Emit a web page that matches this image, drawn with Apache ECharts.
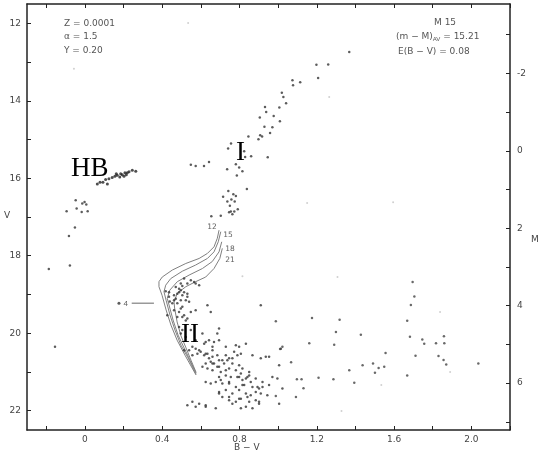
<!DOCTYPE html>
<html>
<head>
<meta charset="utf-8">
<script src="https://cdn.jsdelivr.net/npm/echarts@6/dist/echarts.min.js"></script>
<style>
  html, body { margin: 0; padding: 0; background: #fff; }
  #chart { width: 550px; height: 459px; }
</style>
</head>
<body>
<div id="chart"></div>
<script>
// M15 colour-magnitude diagram, [B-V, V]
const hbPts = [
  [0.064,16.15],[0.078,16.10],[0.093,16.10],[0.116,16.15],[0.107,16.03],[0.124,16.01],
  [0.141,15.98],[0.155,15.95],[0.167,15.92],[0.180,15.97],[0.193,15.91],[0.207,15.86],
  [0.219,15.86],[0.228,15.83],[0.245,15.79],[0.263,15.82],[0.185,15.88],[0.202,15.95],
  [0.162,15.88],[0.214,15.91]
];
const bluePts = [
  [-0.048,16.57],[-0.014,16.65],[-0.002,16.61],[0.007,16.68],[-0.043,16.78],[-0.095,16.85],
  [-0.017,16.87],[0.014,16.85],[-0.052,17.27],[-0.083,17.49],[-0.078,18.25],[-0.187,18.34],
  [-0.155,20.35]
];
const rgbPts = [
  [1.368,12.74],[1.198,13.07],[1.259,13.06],[1.207,13.41],[1.074,13.47],[1.114,13.52],
  [1.077,13.60],[1.019,13.79],[1.027,13.90],[1.041,14.06],[1.006,14.17],[0.932,14.16],
  [0.938,14.29],[0.977,14.39],[0.905,14.43],[1.009,14.53],[0.929,14.67],[0.970,14.68],
  [0.958,14.83],[0.907,14.89],[0.917,14.92],[0.898,14.99],[0.846,14.92],[0.756,15.10],
  [0.741,15.23],[0.824,15.30],[0.860,15.43],[0.829,15.45],[0.946,15.46],[0.642,15.58],
  [0.781,15.64],[0.798,15.72],[0.736,15.77],[0.815,15.82],[0.786,15.93],[0.838,16.28],
  [0.742,16.33],[0.768,16.41],[0.781,16.46],[0.715,16.48],[0.758,16.55],[0.737,16.60],
  [0.775,16.60],[0.750,16.71],[0.791,16.80],[0.755,16.86],[0.773,16.86],[0.763,16.93],
  [0.703,16.97],[0.746,16.88],[0.548,15.65],[0.573,15.68],[0.616,15.68],[0.654,16.98]
];
const msPts = [
  [0.548,18.63],[0.530,18.72],[0.504,18.78],[0.487,18.85],[0.470,18.81],[0.496,18.89],
  [0.513,18.94],[0.478,18.98],[0.461,19.02],[0.418,18.92],[0.591,18.76],[0.530,19.06],
  [0.439,19.18],[0.565,18.68],[0.435,19.06],[0.461,19.15],[0.478,19.23],[0.496,19.36],
  [0.426,19.54],[0.487,19.45],[0.513,19.54],[0.530,19.62],[0.548,19.45],[0.573,19.41],
  [0.634,19.28],[0.651,19.45],[0.694,19.88],[0.798,20.35],[0.910,19.28],[0.548,19.92],
  [0.573,20.18],[0.625,20.23],[0.591,20.44],[0.625,20.53],[0.660,20.44],[0.685,20.57],
  [0.642,20.65],[0.711,20.70],[0.746,20.65],[0.763,20.78],[0.660,20.78],[0.694,20.87],
  [0.729,20.96],[0.781,20.96],[0.815,20.91],[0.850,21.00],[0.798,21.13],[0.841,21.13],
  [0.884,21.17],[0.919,21.26],[0.694,21.13],[0.746,21.26],[0.781,21.39],[0.815,21.34],
  [0.867,21.39],[0.901,21.43],[0.694,21.56],[0.746,21.65],[0.798,21.69],[0.841,21.65],
  [0.884,21.73],[0.901,21.82],[0.763,21.82],[0.833,21.90],[0.867,21.94],[0.530,21.86],
  [0.591,21.82],[0.625,21.86],[0.677,21.94],[0.573,21.90],[0.970,21.13],[0.953,20.61],
  [0.867,20.57],[0.781,20.31],[0.513,20.44],[0.539,20.44],[0.556,20.57],[0.582,20.53],
  [0.599,20.48],[0.617,20.57],[0.634,20.53],[0.651,20.74],[0.660,20.61],[0.668,20.78],
  [0.625,20.78],[0.608,20.87],[0.634,20.91],[0.660,20.96],[0.685,20.87],[0.694,20.70],
  [0.703,21.00],[0.720,20.78],[0.737,20.70],[0.746,20.91],[0.763,20.65],[0.789,20.57],
  [0.729,20.35],[0.833,20.27],[0.910,20.65],[0.936,20.61],[1.014,20.40],[1.005,20.83],
  [0.798,20.83],[0.807,21.04],[0.850,21.09],[0.833,21.17],[0.815,21.21],[0.789,21.13],
  [0.755,21.13],[0.729,21.09],[0.703,21.21],[0.677,21.26],[0.651,21.30],[0.625,21.26],
  [0.711,21.30],[0.746,21.30],[0.824,21.34],[0.858,21.26],[0.893,21.39],[0.919,21.39],
  [0.953,21.34],[0.996,21.17],[1.022,21.43],[0.694,21.52],[0.729,21.47],[0.763,21.56],
  [0.798,21.47],[0.833,21.56],[0.858,21.60],[0.884,21.52],[0.910,21.56],[0.944,21.60],
  [0.711,21.65],[0.746,21.73],[0.781,21.77],[0.807,21.69],[0.850,21.77],[0.901,21.77],
  [1.005,21.82],[0.556,21.77],[0.625,21.90],[0.807,21.94],[0.435,18.94],[0.487,18.94],
  [0.504,19.02],[0.530,18.98],[0.470,19.11],[0.496,19.15],[0.522,19.15],[0.539,19.19],
  [0.452,19.23],[0.504,19.32],[0.461,19.41],[0.478,19.58],[0.504,19.58],[0.522,19.67],
  [0.487,19.84],[0.504,19.92],[0.496,20.01],[0.522,20.10],[0.608,20.01],[0.685,20.01],
  [0.642,20.18],[0.668,20.23],[0.694,20.18],[0.617,20.27],[0.556,20.35],[0.573,20.40],
  [0.660,20.35],[0.772,20.48],[0.807,20.53],[0.729,20.57],[0.513,18.59],[0.496,18.72],
  [0.573,18.72]
];
const fieldPts = [
  [0.988,19.69],[1.175,19.61],[1.318,19.65],[1.299,19.97],[1.161,20.26],[1.290,20.30],
  [1.022,20.35],[1.010,20.41],[1.067,20.75],[1.368,20.96],[1.394,21.28],[1.097,21.19],
  [1.121,21.19],[1.209,21.15],[1.286,21.19],[1.131,21.42],[1.092,21.65],[0.988,21.62],
  [1.428,20.04],[1.556,20.51],[1.437,20.83],[1.491,20.78],[1.501,21.02],[1.520,20.90],
  [1.549,20.87],[1.696,18.68],[1.705,19.05],[1.687,19.27],[1.668,19.68],[1.682,20.09],
  [1.711,20.58],[1.746,20.16],[1.756,20.27],[1.817,20.26],[1.858,20.08],[1.860,20.26],
  [1.830,20.59],[1.856,20.69],[1.870,20.81],[1.668,21.09],[2.036,20.78]
];
const faintPts = [
  [-0.057,13.17],[0.534,11.99],[1.150,16.64],[1.264,13.90],[1.595,16.62],[1.307,18.55],
  [0.815,18.53],[1.838,19.45],[1.890,21.00],[1.328,22.01],[1.534,21.34]
];

// isochrones, ages in Gyr
const iso12 = [[0.694,17.34],[0.685,17.55],[0.668,17.77],[0.634,17.94],[0.591,18.07],[0.522,18.20],
  [0.452,18.37],[0.400,18.55],[0.383,18.67],[0.383,18.80],[0.399,19.02],[0.420,19.40],
  [0.445,19.79],[0.477,20.18],[0.518,20.57],[0.575,21.08]];
const iso15 = [[0.703,17.38],[0.690,17.64],[0.668,17.90],[0.634,18.07],[0.573,18.24],[0.504,18.40],
  [0.444,18.59],[0.418,18.76],[0.409,18.93],[0.420,19.15],[0.440,19.53],[0.466,19.92],
  [0.497,20.31],[0.534,20.64],[0.575,21.06]];
const iso18 = [[0.708,17.64],[0.694,17.90],[0.659,18.15],[0.608,18.33],[0.539,18.50],[0.478,18.67],
  [0.439,18.89],[0.426,19.10],[0.435,19.27],[0.456,19.66],[0.482,20.05],[0.513,20.38],
  [0.544,20.70],[0.575,21.03]];
const iso21 = [[0.711,17.81],[0.698,18.07],[0.668,18.33],[0.625,18.55],[0.573,18.67],[0.522,18.80],
  [0.478,18.97],[0.461,19.19],[0.464,19.35],[0.477,19.71],[0.497,20.07],[0.523,20.38],
  [0.549,20.70],[0.575,21.01]];
const isoLabels = [['12',0.658,17.26],['15',0.741,17.47],['18',0.751,17.83],['21',0.751,18.12]];

const errPt = [[0.176,19.23]];
const errBar = [[0.242,19.23],[0.357,19.23]];

const xTicks = [-0.2,0,0.2,0.4,0.6,0.8,1.0,1.2,1.4,1.6,1.8,2.0,2.2];
const xLabels = [0,0.4,0.8,1.2,1.6,2.0];
const vTicks = [12,13,14,15,16,17,18,19,20,21,22];
const vLabels = [12,14,16,18,20,22];
const mTicks = [-3,-2,-1,0,1,2,3,4,5,6,7];
const mLabels = [-2,0,2,4,6];
const distMod = 15.29;

const chart = echarts.init(document.getElementById('chart'));
const axisCol = '#222';
const labCol = '#444';
const tick = { show: true, inside: true, length: 4, lineStyle: { color: axisCol, width: 1 } };
const line = { show: true, onZero: false, lineStyle: { color: axisCol, width: 1.5 } };
const dot = (data, size, color) => ({
  type: 'scatter', data, symbol: 'circle', symbolSize: size,
  itemStyle: { color }, silent: true, z: 3
});
const iso = (data) => ({
  type: 'line', data, showSymbol: false, smooth: false, silent: true,
  lineStyle: { color: '#808080', width: 1 }, z: 2
});

const option = {
  animation: false,
  backgroundColor: '#fff',
  grid: { left: 27, right: 40, top: 4, bottom: 29 },
  xAxis: [{
    type: 'value', min: -0.3, max: 2.2,
    axisLine: line,
    axisTick: Object.assign({ customValues: xTicks }, tick),
    axisLabel: {
      customValues: xLabels, color: labCol, fontSize: 9, margin: 5,
      fontFamily: 'DejaVu Sans',
      formatter: v => v === 0 ? '0' : v.toFixed(1)
    },
    splitLine: { show: false }
  }, {
    type: 'value', min: -0.3, max: 2.2, position: 'top',
    axisLine: line,
    axisTick: Object.assign({ customValues: xTicks }, tick),
    axisLabel: { show: false },
    splitLine: { show: false }
  }],
  yAxis: [{
    type: 'value', min: 11.5, max: 22.5, inverse: true, position: 'left',
    axisLine: line,
    axisTick: Object.assign({ customValues: vTicks }, tick),
    axisLabel: { customValues: vLabels, color: labCol, fontSize: 9, margin: 6, fontFamily: 'DejaVu Sans' },
    splitLine: { show: false }
  }, {
    type: 'value', min: 11.5 - distMod, max: 22.5 - distMod, inverse: true, position: 'right',
    axisLine: line,
    axisTick: Object.assign({ customValues: mTicks }, tick),
    axisLabel: { customValues: mLabels, color: labCol, fontSize: 9, margin: 7, fontFamily: 'DejaVu Sans' },
    splitLine: { show: false }
  }],
  series: [
    iso(iso12), iso(iso15), iso(iso18), iso(iso21),
    {
      type: 'line', data: errBar, showSymbol: false, silent: true,
      lineStyle: { color: '#999', width: 1.5 }
    },
    dot(faintPts, 2, '#c4c4c4'),
    dot(hbPts, 3, '#222'),
    dot(bluePts, 2.5, '#333'),
    dot(rgbPts, 2.5, '#333'),
    dot(msPts, 2.5, '#333'),
    dot(fieldPts, 2.5, '#444'),
    {
      type: 'scatter', data: errPt, symbolSize: 3, itemStyle: { color: '#333' }, silent: true,
      label: { show: true, position: 'right', distance: 3, formatter: '4', fontSize: 8, color: '#333' }
    },
    {
      type: 'scatter', symbolSize: 0, silent: true,
      data: isoLabels.map(d => ({ name: d[0], value: [d[1], d[2]] })),
      label: { show: true, position: 'inside', formatter: '{b}', fontSize: 7.5, color: '#333', fontFamily: 'DejaVu Sans' }
    }
  ],
  graphic: [
    { type: 'text', left: 64, top: 19, style: { text: 'Z = 0.0001', fontSize: 9, fill: '#555', fontFamily: 'DejaVu Sans' } },
    { type: 'text', left: 64, top: 32, style: { text: 'α = 1.5', fontSize: 9, fill: '#555', fontFamily: 'DejaVu Sans' } },
    { type: 'text', left: 64, top: 46, style: { text: 'Y = 0.20', fontSize: 9, fill: '#555', fontFamily: 'DejaVu Sans' } },
    { type: 'text', left: 434, top: 18, style: { text: 'M 15', fontSize: 9, fill: '#555', fontFamily: 'DejaVu Sans' } },
    { type: 'text', left: 396, top: 32, style: {
        text: '(m − M){s|AV} = 15.21', fontSize: 9, fill: '#555', fontFamily: 'DejaVu Sans',
        rich: { s: { fontSize: 6, fill: '#555', padding: [5, 0, 0, 0] } } } },
    { type: 'text', left: 398, top: 47, style: { text: 'E(B − V) = 0.08', fontSize: 9, fill: '#555', fontFamily: 'DejaVu Sans' } },
    { type: 'text', left: 4, top: 211, style: { text: 'V', fontSize: 9, fill: '#444', fontFamily: 'DejaVu Sans' } },
    { type: 'text', left: 531, top: 235, style: { text: 'M', fontSize: 9, fill: '#444', fontFamily: 'DejaVu Sans' } },
    { type: 'text', left: 234, top: 443, style: { text: 'B − V', fontSize: 9, fill: '#444', fontFamily: 'DejaVu Sans' } },
    { type: 'text', left: 71, top: 155, z: 10, style: { text: 'HB', fontSize: 27, fill: '#000', fontFamily: 'Liberation Serif' } },
    { type: 'text', left: 236, top: 139, z: 10, style: { text: 'I', fontSize: 27, fill: '#000', fontFamily: 'Liberation Serif' } },
    { type: 'text', left: 181, top: 321, z: 10, style: { text: 'II', fontSize: 27, fill: '#000', fontFamily: 'Liberation Serif' } }
  ]
};
chart.setOption(option);
</script>
</body>
</html>
